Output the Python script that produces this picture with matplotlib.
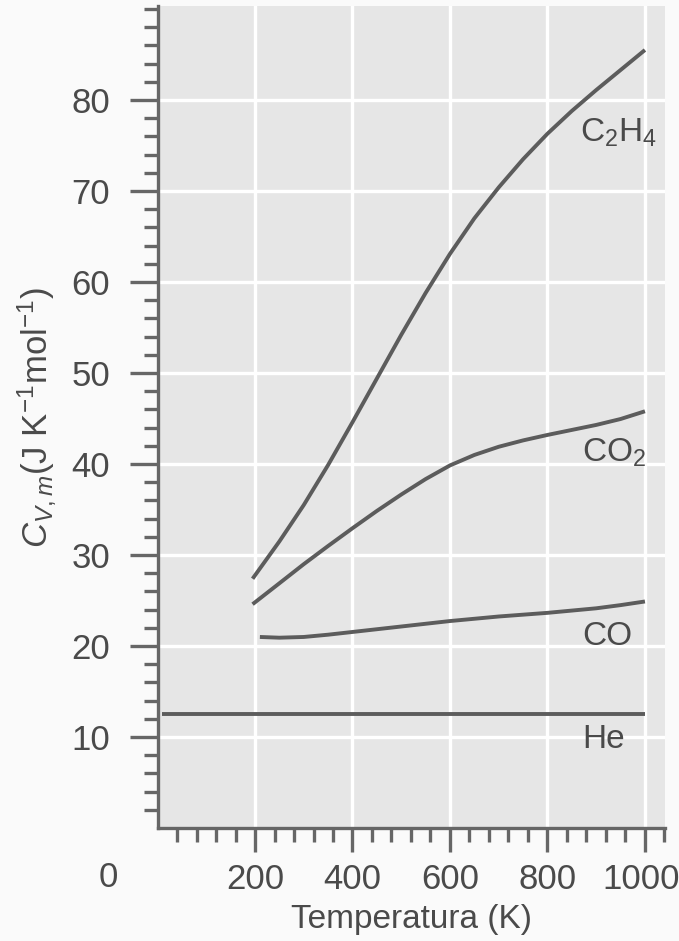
import matplotlib
matplotlib.use('Agg')
import matplotlib.pyplot as plt
import matplotlib.transforms as mtransforms
import numpy as np

plt.rcParams['font.family'] = ['Liberation Sans', 'DejaVu Sans']
plt.rcParams['mathtext.fontset'] = 'custom'
plt.rcParams['mathtext.rm'] = 'Liberation Sans'
plt.rcParams['mathtext.it'] = 'Liberation Sans:italic'

# values (T in K, Cv,m in J/K/mol)
t_c2h4 = [195, 250, 300, 350, 400, 450, 500, 550, 600, 650, 700, 750, 800, 850, 900, 950, 1000]
cv_c2h4 = [27.4, 31.5, 35.5, 39.9, 44.6, 49.4, 54.2, 58.8, 63.1, 67.0, 70.4, 73.5, 76.3, 78.8, 81.1, 83.3, 85.5]

t_co2 = [195, 250, 300, 350, 400, 450, 500, 550, 600, 650, 700, 750, 800, 850, 900, 950, 1000]
cv_co2 = [24.6, 26.9, 29.0, 31.0, 32.95, 34.85, 36.65, 38.35, 39.85, 41.0, 41.9, 42.6, 43.2, 43.75, 44.3, 44.95, 45.8]

t_co = [210, 250, 300, 350, 400, 450, 500, 550, 600, 650, 700, 750, 800, 850, 900, 950, 1000]
cv_co = [21.0, 20.92, 21.0, 21.25, 21.55, 21.85, 22.15, 22.45, 22.75, 23.0, 23.25, 23.45, 23.65, 23.9, 24.15, 24.5, 24.9]

t_he = [10, 1000]
cv_he = [12.5, 12.5]

labels = ['C$_2$H$_4$', 'CO$_2$', 'CO', 'He']
label_pos = [(867, 76.4), (871, 41.2), (871, 21.0), (871, 9.7)]

line_col = '#5c5c5c'
text_col = '#4a4a4a'

fig = plt.figure(figsize=(6.79, 9.41), dpi=100, facecolor='#fafafa')
ax = fig.add_axes([0.232, 0.12, 0.748, 0.8733])
ax.set_facecolor('#e6e6e6')

for t, cv in [(t_c2h4, cv_c2h4), (t_co2, cv_co2), (t_co, cv_co), (t_he, cv_he)]:
    ax.plot(t, cv, color=line_col, linewidth=2.8, solid_capstyle='butt',
            solid_joinstyle='round', zorder=3)

for lab, (x, y) in zip(labels, label_pos):
    ax.text(x, y, lab, fontsize=24, color=text_col, va='center', ha='left')

ax.set_xlim(0, 1042)
ax.set_ylim(0, 90.3)
ax.set_xticks([200, 400, 600, 800, 1000])
ax.set_xticks(np.arange(40, 1041, 40), minor=True)
ax.set_yticks(np.arange(10, 81, 10))
ax.set_yticks(np.arange(2, 91, 2), minor=True)

ax.grid(True, which='major', color='white', linewidth=2.4)
ax.set_axisbelow(True)

for s in ['top', 'right']:
    ax.spines[s].set_visible(False)
for s in ['left', 'bottom']:
    ax.spines[s].set_color('#666666')
    ax.spines[s].set_linewidth(2.4)

ax.tick_params(which='major', length=20, width=2.4, color='#666666',
               labelsize=25, labelcolor=text_col)
ax.tick_params(which='minor', length=10, width=2.4, color='#666666')
ax.tick_params(axis='y', which='major', pad=14)
ax.tick_params(axis='x', which='major', length=17, pad=8)

# keep "1000" inside the figure edge
last = ax.get_xticklabels()[-1]
last.set_transform(last.get_transform() +
                   mtransforms.ScaledTranslation(-3 / 72, 0, fig.dpi_scale_trans))

# the lone "0" in the lower left corner
ax.annotate('0', xy=(0, 0), xytext=(-35.6, -35.3), textcoords='offset points',
            ha='center', va='center', fontsize=25, color=text_col,
            annotation_clip=False)

ax.set_xlabel('Temperatura (K)', fontsize=24, color=text_col, labelpad=6)
ax.set_ylabel(r'$C_{V,m}$(J K$^{-1}$mol$^{-1}$)', fontsize=25, color=text_col, labelpad=10)

fig.savefig('out.png', dpi=100, facecolor=fig.get_facecolor())
